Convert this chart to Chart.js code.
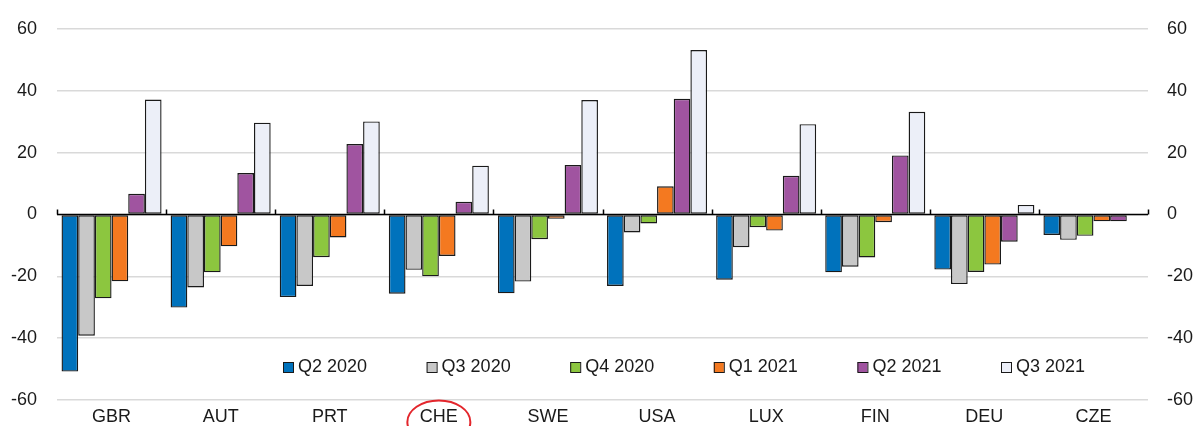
<!DOCTYPE html>
<html>
<head>
<meta charset="utf-8">
<script src="https://cdn.jsdelivr.net/npm/chart.js@4.4.0/dist/chart.umd.min.js"></script>
<style>
  html, body { margin: 0; padding: 0; background: #fff; overflow: hidden; }
  #wrap { position: relative; width: 1196px; height: 426px; }
</style>
</head>
<body>
<div id="wrap"><canvas id="chart"></canvas></div>
<script>
/* ---------- data ---------- */
const countries = ["GBR", "AUT", "PRT", "CHE", "SWE", "USA", "LUX", "FIN", "DEU", "CZE"];
const seriesNames = ["Q2 2020", "Q3 2020", "Q4 2020", "Q1 2021", "Q2 2021", "Q3 2021"];

const q2_2020 = [-50.8, -30.1, -26.7, -25.6, -25.5, -23.1, -21.1, -18.7, -17.8, -6.6];
const q3_2020 = [-39.2, -23.6, -23.1, -17.9, -21.7, -5.8, -10.6, -16.9, -22.5, -8.2];
const q4_2020 = [-27.1, -18.7, -13.8, -20.0, -8.0, -2.9, -4.1, -13.9, -18.6, -6.9];
const q1_2021 = [-21.6, -10.3, -7.4, -13.4, -1.4, 9.1, -5.2, -2.5, -16.2, -2.2];
const q2_2021 = [6.7, 13.4, 22.8, 4.1, 16.0, 37.4, 12.5, 19.1, -8.8, -2.2];
const q3_2021 = [37.2, 29.7, 30.1, 15.8, 37.0, 53.2, 29.2, 33.2, 3.1, 0.0];

const yMin = -60, yMax = 60, yStep = 20;

/* ---------- styles ---------- */
const colors = ["#0072BC", "#C8C8C8", "#8CC63F", "#F47920", "#A054A0", "#ECEFF8"];
const FONT = "'Liberation Sans', Arial, sans-serif";
const FSIZE = 18;
const TEXT = "#1a1a1a";

const seriesValues = [q2_2020, q3_2020, q4_2020, q1_2021, q2_2021, q3_2021];

const datasets = seriesNames.map((name, i) => ({
  label: name,
  data: seriesValues[i],
  backgroundColor: colors[i],
  borderColor: "#1a1a1a",
  borderWidth: 1.4,
  borderSkipped: false,
  categoryPercentage: 0.917,
  barPercentage: 1.0,
}));

// fixed axis sizes, no label overflow padding
function fixSize(w, h) {
  return function (s) {
    if (w != null) s.width = w;
    if (h != null) s.height = h;
    s.paddingTop = 0;
    s.paddingBottom = 0;
    s.paddingLeft = 0;
    s.paddingRight = 0;
  };
}

/* ---------- overlay: zero axis, legend, red circle ---------- */
const overlay = {
  id: "overlay",
  afterDatasetsDraw(chart) {
    const { ctx, chartArea: a, scales } = chart;
    const y0 = scales.y.getPixelForValue(0);
    ctx.save();

    // zero line with category tick marks
    ctx.strokeStyle = "#000";
    ctx.lineWidth = 1.5;
    ctx.beginPath();
    ctx.moveTo(a.left, y0);
    ctx.lineTo(a.right, y0);
    for (let i = 0; i <= countries.length; i++) {
      const x = Math.round(scales.x.getPixelForValue(i - 0.5)) + 0.5;
      ctx.moveTo(x, y0);
      ctx.lineTo(x, y0 - 5);
    }
    ctx.stroke();

    // legend
    ctx.font = FSIZE + "px " + FONT;
    ctx.textBaseline = "middle";
    ctx.textAlign = "left";
    seriesNames.forEach((name, i) => {
      const x = 283 + i * 143.6;
      const y = 362;
      ctx.fillStyle = colors[i];
      ctx.fillRect(x, y, 10, 10);
      ctx.strokeStyle = "#1a1a1a";
      ctx.lineWidth = 1;
      ctx.strokeRect(x + 0.5, y + 0.5, 10, 10);
      ctx.fillStyle = TEXT;
      ctx.fillText(name, x + 15, y + 5.5);
    });

    // red ellipse around CHE
    const cx = scales.x.getPixelForValue(countries.indexOf("CHE"));
    ctx.strokeStyle = "#E3262C";
    ctx.lineWidth = 2;
    ctx.beginPath();
    ctx.ellipse(cx, a.bottom + 22, 31.5, 21.5, 0, 0, Math.PI * 2);
    ctx.stroke();

    ctx.restore();
  },
};

/* ---------- chart ---------- */
new Chart(document.getElementById("chart"), {
  type: "bar",
  data: { labels: countries, datasets: datasets },
  options: {
    responsive: true,
    maintainAspectRatio: false,
    animation: false,
    layout: { padding: { top: 29, left: 0, right: 0, bottom: 0 } },
    plugins: { legend: { display: false }, tooltip: { enabled: false } },
    scales: {
      x: {
        grid: { display: false, drawTicks: false },
        border: { display: false },
        ticks: { color: TEXT, font: { family: FONT, size: FSIZE }, padding: 6 },
        afterFit: fixSize(null, 26),
      },
      y: {
        position: "left",
        min: yMin,
        max: yMax,
        ticks: { stepSize: yStep, color: TEXT, font: { family: FONT, size: FSIZE }, padding: 20 },
        grid: { color: "#D9D9D9", lineWidth: 1.5, drawTicks: false },
        border: { display: false },
        afterFit: fixSize(57, null),
      },
      y2: {
        position: "right",
        min: yMin,
        max: yMax,
        ticks: { stepSize: yStep, color: TEXT, font: { family: FONT, size: FSIZE }, padding: 19 },
        grid: { display: false, drawTicks: false },
        border: { display: false },
        afterFit: fixSize(48, null),
      },
    },
  },
  plugins: [overlay],
});
</script>
</body>
</html>
